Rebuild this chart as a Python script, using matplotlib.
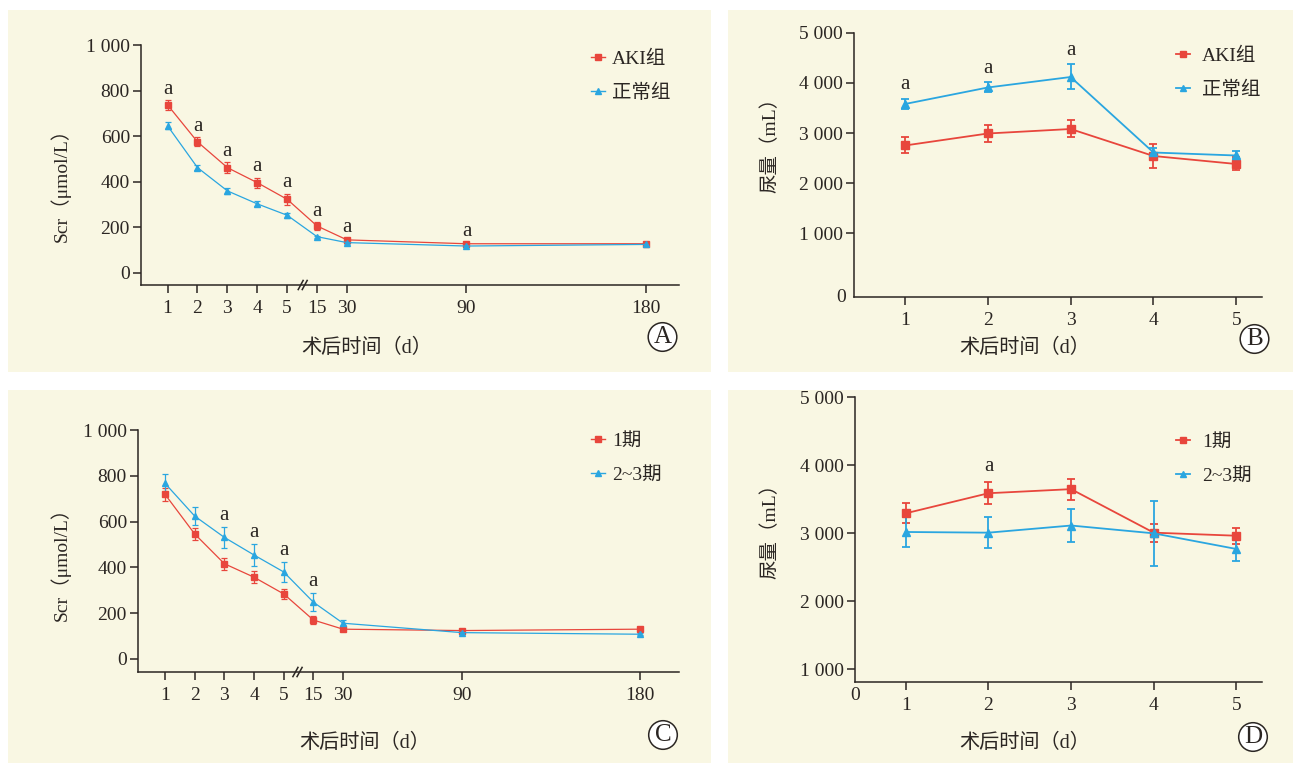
import numpy as np
import matplotlib.pyplot as plt
from matplotlib.patches import Rectangle, Circle
from matplotlib.lines import Line2D

plt.rcParams['font.family'] = ['Liberation Serif', 'Noto Sans CJK SC']

RED = '#e8463c'
BLUE = '#2aa6e0'
CREAM = '#f9f7e3'
INK = '#2b2623'

# Scr by postoperative day (panels A, C)
scr_days = ['1', '2', '3', '4', '5', '15', '30', '90', '180']
scr_pos = [0, 1, 2, 3, 4, 5, 6, 10, 16]
aki_scr = [737, 575, 462, 396, 323, 206, 145, 128, 128]
aki_scr_err = [20, 20, 23, 22, 25, 17, 6, 5, 4]
normal_scr = [645, 462, 360, 303, 253, 159, 133, 118, 125]
normal_scr_err = [15, 12, 12, 11, 12, 5, 4, 3, 3]
stage1_scr = [719, 546, 416, 357, 284, 170, 130, 124, 130]
stage1_scr_err = [28, 28, 27, 25, 22, 17, 5, 4, 4]
stage23_scr = [767, 624, 531, 454, 380, 248, 156, 115, 108]
stage23_scr_err = [41, 41, 46, 47, 44, 40, 12, 4, 4]

# urine volume by postoperative day (panels B, D)
urine_days = [1, 2, 3, 4, 5]
aki_urine = [2750, 2990, 3080, 2540, 2380]
aki_urine_err = [160, 165, 170, 240, 130]
normal_urine = [3580, 3910, 4120, 2610, 2550]
normal_urine_err = [100, 100, 250, 90, 80]
stage1_urine = [3290, 3585, 3645, 3005, 2960]
stage1_urine_err = [145, 160, 155, 130, 120]
stage23_urine = [3015, 3005, 3110, 2995, 2765]
stage23_urine_err = [220, 230, 245, 475, 180]

# index of points marked "a" (P<0.05)
sig_a = [0, 1, 2, 3, 4, 5, 6, 7]
sig_b = [0, 1, 2]
sig_c = [2, 3, 4, 5]
sig_d = [1]

W, H = 1295, 763
FS = 14
fig = plt.figure(figsize=(W / 100, H / 100), dpi=100, facecolor='white')

for x0, y0, x1, y1 in [(8, 10, 711, 372), (728, 10, 1293, 372),
                       (8, 390, 711, 763), (728, 390, 1293, 763)]:
    fig.patches.append(Rectangle((x0 / W, 1 - y1 / H), (x1 - x0) / W, (y1 - y0) / H,
                                 transform=fig.transFigure, fc=CREAM, ec='none', zorder=-5))


def px_axes(l, t, r, b):
    return fig.add_axes([l / W, 1 - b / H, (r - l) / W, (b - t) / H])


def style(ax):
    ax.set_facecolor('none')
    for s in ['top', 'right']:
        ax.spines[s].set_visible(False)
    for s in ['left', 'bottom']:
        ax.spines[s].set_color(INK)
        ax.spines[s].set_linewidth(1.1)
    ax.tick_params(direction='out', length=5.5, width=1.1, color=INK,
                   labelsize=FS, labelcolor=INK)
    ax.tick_params(axis='x', pad=5.5)
    ax.tick_params(axis='y', pad=2.5)


def series(ax, x, y, e, color, marker, ms, lw, cap):
    ax.errorbar(x, y, yerr=e, color=color, marker=marker, ms=ms, lw=lw,
                elinewidth=lw, capsize=cap, capthick=lw, clip_on=False)


def mark(ax, x, y, e, idx, off):
    for i in idx:
        ax.annotate('a', xy=(x[i], y[i] + e[i]), xytext=(0, off), textcoords='offset points',
                    ha='center', va='baseline', fontsize=15, color=INK)


def legend(ax, labels, colors, markers, ms, lw, xpx, ypx, pad):
    hs = [Line2D([], [], color=c, marker=m, ms=ms, lw=lw) for c, m in zip(colors, markers)]
    ax.legend(hs, labels, loc='center left', bbox_to_anchor=(xpx / W, 1 - ypx / H),
              bbox_transform=fig.transFigure, frameon=False, fontsize=FS,
              handlelength=0.7, handletextpad=pad, labelspacing=0.8,
              borderpad=0, borderaxespad=0, labelcolor=INK)


def brk(ax, x0, x1):
    tr = ax.get_xaxis_transform()
    w = (x1 - x0) * 0.55
    for xs in [x0, x1 - w]:
        ax.plot([xs, xs + w], [-0.019, 0.019], color=INK, lw=1.1, transform=tr, clip_on=False)


def scr_panel(box, xl, ylim, red, red_e, blue, blue_e, sig, sig_on_red, labels, lx, ly, bx):
    ax = px_axes(*box)
    style(ax)
    series(ax, scr_pos, red, red_e, RED, 's', 4.5, 0.9, 2)
    series(ax, scr_pos, blue, blue_e, BLUE, '^', 4.5, 0.9, 2)
    ax.set_xlim(*xl)
    ax.set_ylim(*ylim)
    ax.set_xticks(scr_pos)
    ax.set_xticklabels(scr_days)
    ax.set_yticks([0, 200, 400, 600, 800, 1000])
    ax.set_yticklabels(['0', '200', '400', '600', '800', '1 000'])
    if sig_on_red:
        mark(ax, scr_pos, red, red_e, sig, 4.5)
    else:
        mark(ax, scr_pos, blue, blue_e, sig, 5)
    legend(ax, labels, [RED, BLUE], ['s', '^'], 4.5, 1.0, lx, ly, 0.38)
    brk(ax, *bx)
    return ax


def urine_panel(box, ylim, red, red_e, blue, blue_e, sig, sig_on_red, labels, lx, ly, off):
    ax = px_axes(*box)
    style(ax)
    series(ax, urine_days, red, red_e, RED, 's', 5.5, 1.3, 3)
    series(ax, urine_days, blue, blue_e, BLUE, '^', 5.5, 1.3, 3)
    ax.set_xlim(0.385, 5.31)
    ax.set_ylim(*ylim)
    ax.set_xticks(urine_days)
    ax.set_yticks([1000, 2000, 3000, 4000, 5000])
    ax.set_yticklabels(['1 000', '2 000', '3 000', '4 000', '5 000'])
    if sig_on_red:
        mark(ax, urine_days, red, red_e, sig, off)
    else:
        mark(ax, urine_days, blue, blue_e, sig, off)
    legend(ax, labels, [RED, BLUE], ['s', '^'], 5, 1.3, lx, ly, 0.64)
    return ax


axA = scr_panel((141, 45, 679, 285), (-0.89, 17.11), (-53, 1000), aki_scr, aki_scr_err,
                normal_scr, normal_scr_err, sig_a, True, ['AKI组', '正常组'], 591, 76, (4.37, 4.67))
axC = scr_panel((138, 430, 679, 672), (-0.91, 17.32), (-57, 1000), stage1_scr, stage1_scr_err,
                stage23_scr, stage23_scr_err, sig_c, False, ['1期', '2~3期'], 591, 458, (4.31, 4.62))
axB = urine_panel((854, 33, 1262, 297), (-280, 5000), aki_urine, aki_urine_err,
                  normal_urine, normal_urine_err, sig_b, False, ['AKI组', '正常组'], 1176, 73, 7)
axD = urine_panel((855, 397, 1262, 682), (809, 5000), stage1_urine, stage1_urine_err,
                  stage23_urine, stage23_urine_err, sig_d, True, ['1期', '2~3期'], 1176, 459, 8)

# zero labels at the origin of the urine panels
axB.annotate('0', xy=(0, 0), xycoords='axes fraction', xytext=(-6, 0), textcoords='offset points',
             ha='right', va='center', fontsize=FS, color=INK)
axD.annotate('0', xy=(0, 0), xycoords='axes fraction', xytext=(0, -9.5), textcoords='offset points',
             ha='center', va='center', fontsize=FS, color=INK)

# axis titles
for x, y in [(367, 348), (1025, 348), (365, 743), (1025, 743)]:
    fig.text(x / W, 1 - y / H, '术后时间（d）', ha='center', va='center', fontsize=14.5, color=INK)
for x, y, s in [(60, 180, 'Scr（μmol/L）'), (60, 559, 'Scr（μmol/L）'),
                (770, 140, '尿量（mL）'), (770, 526, '尿量（mL）')]:
    fig.text(x / W, 1 - y / H, s, ha='center', va='center', rotation=90, fontsize=FS, color=INK)

# circled panel letters
for x, y, s in [(662.5, 337, 'A'), (1254.5, 339, 'B'), (663, 735, 'C'), (1253, 737, 'D')]:
    fig.patches.append(Circle((x / 100, (H - y) / 100), 0.143, transform=fig.dpi_scale_trans,
                              fc='white', ec=INK, lw=1.1, zorder=5))
    fig.text(x / W, 1 - y / H, s, ha='center', va='center', fontsize=18, color=INK, zorder=6)

fig.savefig('out.png', dpi=100)
